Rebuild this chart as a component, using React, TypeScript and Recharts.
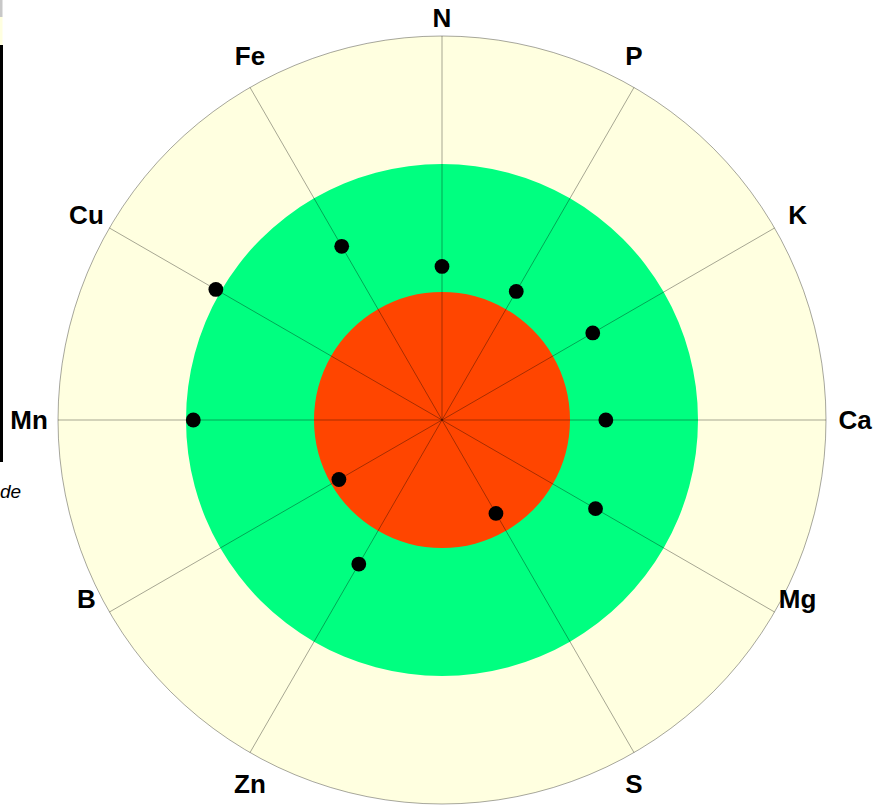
import { RadarChart, Radar, PolarGrid, PolarAngleAxis, PolarRadiusAxis, PieChart, Pie } from "recharts";

// chart geometry
const W = 874;
const H = 806;
const CX = 442;
const CY = 420;
const R = 384;

// nutrient index per element (blank slot at the bottom has no reading)
const elements = ["N", "P", "K", "Ca", "Mg", "S", "", "Zn", "B", "Mn", "Cu", "Fe"];
const indexValues = [1.2, 1.16, 1.36, 1.28, 1.385, 0.843, null, 1.3, 0.93, 1.943, 2.04, 1.567];

// background bands, outer to inner
const bandLimits = [3, 2, 1];
const bandColors = ["#FFFFE0", "#00FF80", "#FF4500"];
const radialDomain = [0, 3];

const data = elements.map((element, i) => ({ element, value: indexValues[i] }));
const fullTurn = [{ name: "band", value: 1 }];

const spokeAngles = elements
  .map((e, i) => ({ e, angle: 90 - (i * 360) / elements.length }))
  .filter((d) => d.e !== "")
  .map((d) => d.angle);

const renderTick = (props: any) => {
  const { payload } = props;
  const label = payload?.value;
  if (!label) return <g />;
  const cx = typeof props.cx === "number" ? props.cx : CX;
  const cy = typeof props.cy === "number" ? props.cy : CY;
  const radius = typeof props.radius === "number" ? props.radius : R;
  const t = ((90 - payload.coordinate) * Math.PI) / 180;
  const s = Math.sin(t);
  const c = Math.cos(t);
  let x = cx + radius * s;
  let y = cy - radius * c;
  if (Math.abs(s) < 0.1) y -= 18 * Math.sign(c);
  else if (Math.abs(s) < 0.6) y -= 31 * Math.sign(c);
  else if (Math.abs(c) < 0.1) x += 29 * Math.sign(s);
  else {
    x += 23 * Math.sign(s);
    y -= 13;
  }
  return (
    <text
      x={x}
      y={y}
      textAnchor="middle"
      dominantBaseline="central"
      fontFamily="'Liberation Sans', Arial, sans-serif"
      fontWeight="bold"
      fontSize={26}
      fill="#000"
    >
      {label}
    </text>
  );
};

const renderDot = (props: any) => {
  const { cx, cy, payload, index } = props;
  if (!payload || payload.value == null) return <g key={index} />;
  return <circle key={index} cx={cx} cy={cy} r={7.4} fill="#000" />;
};

export default function App() {
  return (
    <div style={{ position: "relative", width: W, height: H, overflow: "hidden", background: "#fff" }}>
      <style>{"body{margin:0}"}</style>

      {/* bands */}
      <div style={{ position: "absolute", left: 0, top: 0 }}>
        <PieChart width={W} height={H} margin={{ top: 0, right: 0, bottom: 0, left: 0 }}>
          {bandLimits.map((lim, i) => (
            <Pie
              key={i}
              data={fullTurn}
              dataKey="value"
              cx={CX}
              cy={CY}
              innerRadius={0}
              outerRadius={(R * lim) / radialDomain[1]}
              startAngle={90}
              endAngle={-270}
              fill={bandColors[i]}
              stroke="none"
              isAnimationActive={false}
            />
          ))}
        </PieChart>
      </div>

      {/* clipped legend remnants on the left edge */}
      <svg width={40} height={H} style={{ position: "absolute", left: 0, top: 0 }}>
        <rect x={0} y={0} width={2.5} height={17} fill="#c8c8c8" />
        <rect x={0} y={17} width={2.5} height={28} fill="#FFFFE0" />
        <rect x={0} y={45} width={3} height={417} fill="#000" />
        <text
          x={0}
          y={498}
          textAnchor="start"
          fontFamily="'Liberation Sans', Arial, sans-serif"
          fontStyle="italic"
          fontSize={19}
          fill="#000"
        >
          de
        </text>
      </svg>

      <div style={{ position: "absolute", left: 0, top: 0 }}>
        <RadarChart
          width={W}
          height={H}
          data={data}
          cx={CX}
          cy={CY}
          outerRadius={R}
          margin={{ top: 0, right: 0, bottom: 0, left: 0 }}
        >
          <PolarGrid
            gridType="circle"
            polarRadius={[R]}
            polarAngles={spokeAngles}
            stroke="#000"
            strokeOpacity={0.35}
            strokeWidth={1}
          />
          <PolarAngleAxis dataKey="element" tick={renderTick} tickLine={false} axisLine={false} />
          <PolarRadiusAxis domain={radialDomain} tick={false} axisLine={false} />
          <Radar
            dataKey="value"
            stroke="none"
            fill="none"
            dot={renderDot}
            isAnimationActive={false}
          />
        </RadarChart>
      </div>
    </div>
  );
}
